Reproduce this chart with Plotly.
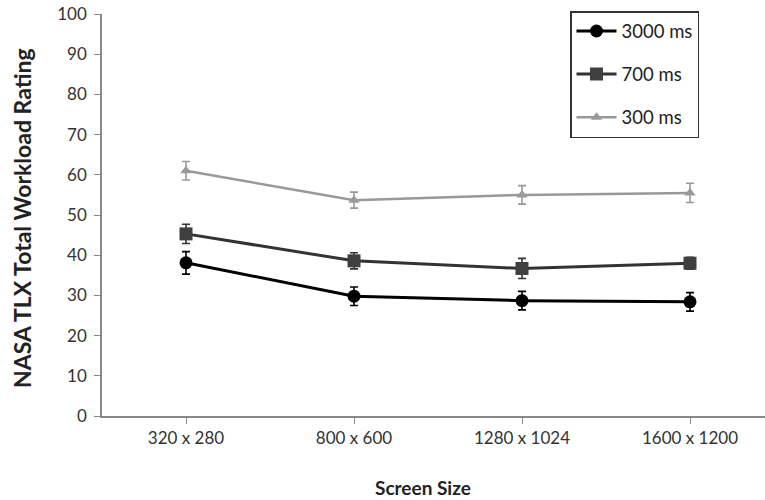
import plotly.graph_objects as go

categories = ["320 x 280", "800 x 600", "1280 x 1024", "1600 x 1200"]
series_names = ["3000 ms", "700 ms", "300 ms"]
vals_3000 = [38.1, 29.8, 28.7, 28.4]
err_3000 = [2.8, 2.3, 2.3, 2.3]
vals_700 = [45.3, 38.6, 36.7, 38.0]
err_700 = [2.4, 2.0, 2.5, 1.5]
vals_300 = [61.0, 53.7, 55.0, 55.5]
err_300 = [2.3, 2.0, 2.3, 2.4]
y_ticks = [0, 10, 20, 30, 40, 50, 60, 70, 80, 90, 100]

FONT = "Lato"
styles = [
    dict(color="#000000", line="#000000", symbol="circle", size=13, lw=3),
    dict(color="#3f3f3f", line="#333333", symbol="square", size=13, lw=3),
    dict(color="#999999", line="#999999", symbol="triangle-up", size=10, lw=2.5),
]
data = [(vals_3000, err_3000), (vals_700, err_700), (vals_300, err_300)]

fig = go.Figure()
for name, (v, e), s in zip(series_names, data, styles):
    fig.add_trace(go.Scatter(
        x=categories, y=v, name=name, mode="lines+markers",
        legendgroup=name,
        line=dict(color=s["line"], width=s["lw"]),
        marker=dict(color=s["color"], symbol=s["symbol"], size=s["size"]),
        error_y=dict(type="data", array=e, visible=True, color=s["line"],
                     thickness=1.6, width=4),
    ))

W, H = 765, 500
L, R, T, B = 102, 0, 14, 84
pw = W - L - R
fig.update_layout(
    width=W, height=H,
    margin=dict(l=L, r=R, t=T, b=B, pad=0),
    paper_bgcolor="white", plot_bgcolor="white",
    font=dict(family=FONT, size=17, color="#333333"),
    showlegend=True,
    legend=dict(
        x=(570 - L) / pw, y=(416 - 11) / 402, xanchor="left", yanchor="top",
        bordercolor="#333333", borderwidth=1.5, bgcolor="white",
        font=dict(family=FONT, size=18.5, color="#222222"),
        tracegroupgap=16,
        itemwidth=40,
    ),
    xaxis=dict(
        type="category", range=[-0.5, -0.5 + pw / 168.0],
        showline=True, linecolor="#888888", linewidth=1.5,
        ticks="outside", ticklen=6, tickcolor="#888888", tickwidth=1.2,
        showgrid=False, zeroline=False,
        tickfont=dict(family=FONT, size=17, color="#333333"),
    ),
    yaxis=dict(
        range=[0, 100], tickvals=y_ticks,
        showline=True, linecolor="#888888", linewidth=1.5,
        ticks="outside", ticklen=6, tickcolor="#888888", tickwidth=1.2,
        ticklabelstandoff=4,
        showgrid=False, zeroline=False,
        tickfont=dict(family=FONT, size=17, color="#333333"),
    ),
    annotations=[
        dict(text="<b>NASA TLX Total Workload Rating</b>", xref="paper", yref="paper",
             x=(22 - L) / pw, y=(416 - 218) / 402, xanchor="center", yanchor="middle",
             textangle=-90, showarrow=False,
             font=dict(family=FONT, size=23, color="#222222")),
        dict(text="<b>Screen Size</b>", xref="paper", yref="paper",
             x=(423 - L) / pw, y=-(487 - 416) / 402, xanchor="center", yanchor="middle",
             showarrow=False,
             font=dict(family=FONT, size=19, color="#222222")),
    ],
)

fig.write_html("out.html", config={"displayModeBar": False},
               post_script="document.body.style.margin='0';document.body.style.overflow='hidden';")
